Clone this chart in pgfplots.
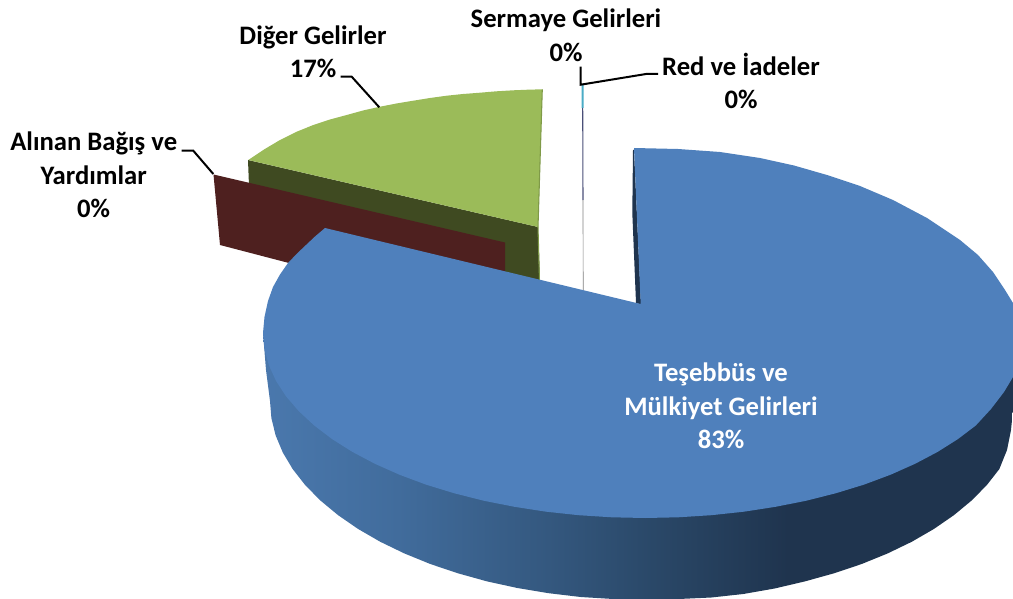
\documentclass[border=0pt]{standalone}
\usepackage{fontspec}
\setmainfont{Carlito}
\usepackage{pgfplots}
\pgfplotsset{compat=1.18}

\definecolor{blueTop}{HTML}{4F80BC}
\definecolor{sideA}{HTML}{4A78AD}
\definecolor{sideB}{HTML}{416C9C}
\definecolor{sideC}{HTML}{34587F}
\definecolor{sideD}{HTML}{2A4868}
\definecolor{sideE}{HTML}{1F344E}
\definecolor{greenTop}{HTML}{9BBB59}
\definecolor{greenSide}{HTML}{3F4A21}
\definecolor{greenEdge}{HTML}{7F9A48}
\definecolor{maroon}{HTML}{4E201F}
\definecolor{teal}{HTML}{4BACC6}
\definecolor{slate}{HTML}{4A4F78}
\definecolor{darkEdge}{HTML}{1F344E}

% horizontal shading of the blue rim, x 263..1013 mapped on 25bp..75bp
\pgfdeclarehorizontalshading{blueside}{100bp}{
  color(0bp)=(sideA); color(25bp)=(sideA); color(34bp)=(sideB);
  color(44bp)=(sideC); color(51bp)=(sideD); color(60bp)=(sideE);
  color(100bp)=(sideE)}

\tikzset{
    lbl/.style={font=\fontsize{20}{25}\selectfont\bfseries, align=center, text=black, inner sep=0pt},
    leader/.style={black, line width=1.5pt, line join=miter},
}

\begin{document}
\begin{tikzpicture}
\begin{axis}[
    scale only axis,
    width=759.75pt,
    height=449.25pt,
    hide axis,
    xmin=0, xmax=1013,
    ymin=0, ymax=599,
    y dir=reverse,
    no markers,
    clip mode=individual,
]
% keeps the page as large as the axis
\addplot[draw=none] coordinates {(0,0) (1013,599)};
% Diğer Gelirler: rim
\addplot[draw=none, fill=greenSide] coordinates {
    (248,160) (538,227) (540,281) (250,212)};
% Diğer Gelirler: top
\addplot[draw=none, fill=greenTop] coordinates {
    (248.3,160) (264,149.5) (280,140) (296,132) (313.3,125) (330,119.5)
    (346.7,115) (363,110.5) (380,106.7) (396.5,103.5) (413.3,100.7) (430,98)
    (446.7,95.7) (463,94) (480,92.7) (496.5,91.3) (513.3,90.3) (528,89.7)
    (542.3,89.3) (538,227)};
\addplot[greenEdge, line width=0.8pt] coordinates {(542.3,89.3) (538,227) (539.5,281)};
% Alınan Bağış ve Yardımlar
\addplot[draw=none, fill=maroon] coordinates {
    (213.5,174.5) (505,242.5) (505,272) (400,292) (220,245)};
% Sermaye Gelirleri / Red ve İadeler, thin slices
\addplot[teal, line width=1.5pt] coordinates {(582.5,85) (582.7,108)};
\addplot[slate, line width=0.8pt] coordinates {(582.7,108) (583,200)};
\addplot[gray, line width=0.5pt] coordinates {(583,200) (583.2,290)};
% Teşebbüs ve Mülkiyet Gelirleri: inner face
\addplot[draw=none, fill=darkEdge] coordinates {
    (633,150) (632.3,213) (636,303) (641,304.5) (634,150)};
% Teşebbüs ve Mülkiyet Gelirleri: rim
\addplot[draw=none, shade, shading=blueside] coordinates {
    (263,333) (266,370) (270,401) (271.4,418.3) (275.7,435.6) (282.8,452.5)
    (292.7,469.1) (305.2,485.1) (320.4,500.5) (338,515.1) (358,528.9)
    (380.1,541.7) (404.3,553.4) (430.3,564) (458,573.3) (487.1,581.4)
    (517.4,588) (548.7,593.2) (580.7,597) (613.2,599) (646,599) (678.8,599)
    (711.3,597.5) (743.3,594) (774.6,588.5) (804.9,581.4) (834,573.3)
    (861.7,564) (887.7,553.4) (911.9,541.7) (934,528.9) (954,515.1)
    (971.6,500.5) (986.8,485.1) (999.3,469.1) (1007,450) (1011,430)
    (1013,410) (1013,370)};
% Teşebbüs ve Mülkiyet Gelirleri: top
\addplot[draw=none, fill=blueTop] coordinates {
    (634,148) (678,149) (720,152) (760,158) (794,165.5) (827,175) (860,186)
    (893,200) (927,218) (960,240) (978,255) (993,272) (1005,290) (1013,303)
    (1013,377) (1004,392) (991,409) (975.8,425.5) (957.9,439.1) (937.6,451.9)
    (915.1,463.8) (890.6,474.7) (864.1,484.6) (836,493.2) (806.4,500.7)
    (775.6,506.8) (743.9,511.7) (711.3,515.2) (678.3,517.3) (645,518)
    (611.7,517.3) (578.7,515.2) (546.1,511.7) (514.4,506.8) (483.6,500.7)
    (454,493.2) (425.9,484.6) (399.4,474.7) (374.9,463.8) (352.4,451.9)
    (332.1,439.1) (314.2,425.5) (298.8,411.2) (286,396.3) (276,380.9)
    (268.8,365.1) (264.5,349.1) (263,333) (264.5,316.9) (268,301) (273,287)
    (280,274.5) (288,263) (297,253.5) (306,245) (315,236.5) (325,228)
    (640.7,304)};
% leader lines
\addplot[leader] coordinates {(181.7,150.7) (193.3,150.7) (213.3,174)};
\addplot[leader] coordinates {(340.7,76.7) (351.7,76.7) (379.3,107.3)};
\addplot[leader] coordinates {(580.7,66.7) (580.7,84.7) (646,74) (658,74)};
% labels
\node[lbl] at (axis cs:566,20) {Sermaye Gelirleri};
\node[lbl] at (axis cs:566,52) {0\%};
\node[lbl] at (axis cs:741,81) {Red ve İadeler\\0\%};
\node[lbl] at (axis cs:313,52) {Diğer Gelirler\\17\%};
\node[lbl] at (axis cs:93.7,175) {Alınan Bağış ve\\Yardımlar\\0\%};
\node[lbl, text=white] at (axis cs:721,406) {Teşebbüs ve\\Mülkiyet Gelirleri\\83\%};
\end{axis}
\end{tikzpicture}
\end{document}
